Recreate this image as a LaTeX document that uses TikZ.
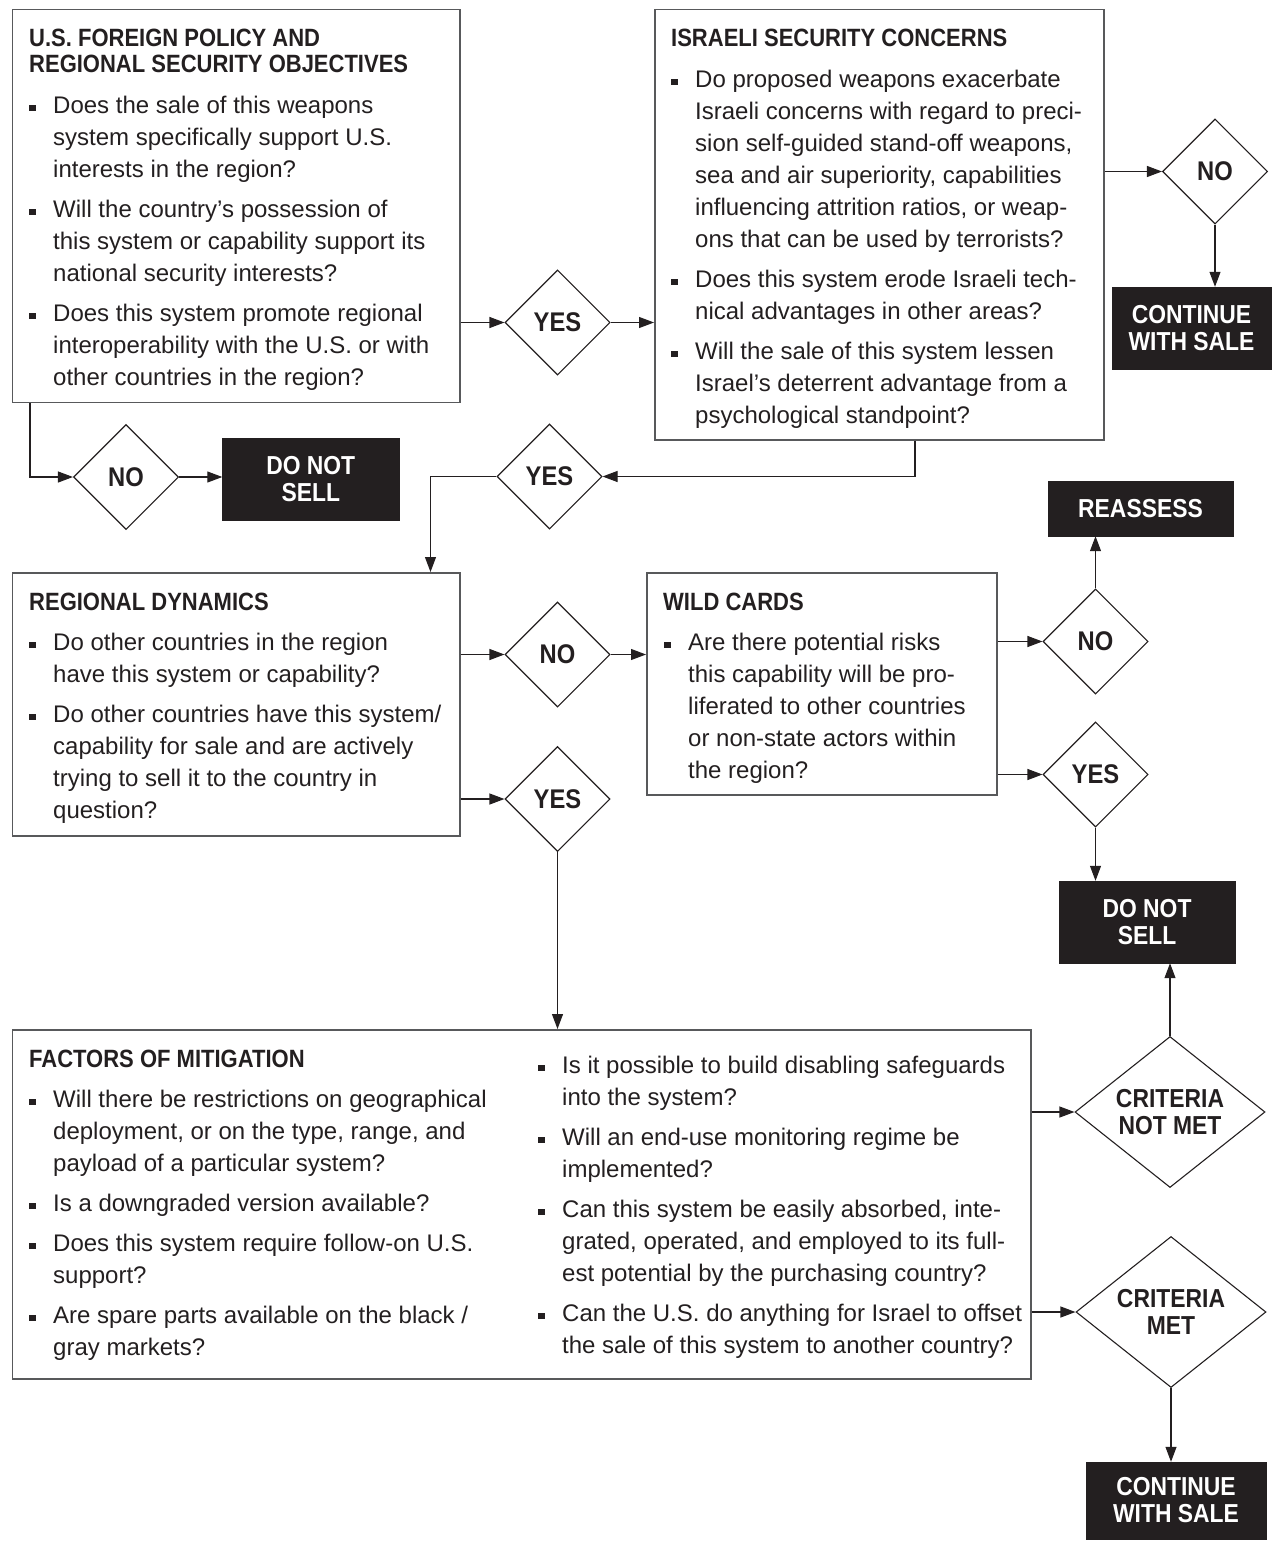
\documentclass[tikz,border=0pt]{standalone}
\usepackage{fontspec}
\setmainfont{Liberation Sans}
\newfontfamily\condfont[FakeStretch=0.88]{Liberation Sans}
\usetikzlibrary{shapes.geometric,arrows.meta}

\definecolor{ink}{RGB}{35,31,32}
\definecolor{frame}{RGB}{88,89,91}

\newcommand\bul{\makebox[24pt][l]{\rule[2pt]{6.5pt}{6.5pt}}}
\newcommand\ind{\hspace*{24pt}}
\newcommand\topline{\rule{0pt}{20pt}}

\begin{document}
\begin{tikzpicture}[x=1pt,y=-1pt,
  qbox/.style={draw=frame,line width=1.5pt,anchor=north west,inner sep=0pt},
  endbox/.style={fill=ink,draw=ink,text=white,inner sep=0pt,align=center,
    font=\condfont\bfseries\fontsize{26}{27}\selectfont},
  decision/.style={diamond,draw=ink,line width=1.1pt,inner sep=0pt,aspect=1.26,
    minimum width=105pt,minimum height=105pt,align=center,text=ink,
    font=\condfont\bfseries\fontsize{27}{27}\selectfont},
  bigdecision/.style={decision,minimum width=190pt,minimum height=151pt,
    font=\condfont\bfseries\fontsize{26}{27}\selectfont},
  title/.style={anchor=north west,inner sep=0pt,align=left,text=ink,
    font=\condfont\bfseries\fontsize{25}{26}\selectfont},
  items/.style={anchor=north west,inner sep=0pt,align=left,text=ink,
    font=\fontsize{24}{32}\selectfont},
  flow/.style={-{Triangle[length=15pt,width=11pt]},draw=ink,line width=1.1pt}]
\useasboundingbox (0,0) rectangle (1272,1541);
%\draw [help lines,step=100] (0,0) grid (1272,1541);

% question boxes
\node [qbox,minimum width=447.5pt,minimum height=392.5pt] (fp)  at (11.5,9) {};
\node [qbox,minimum width=449pt,minimum height=430pt]     (isr) at (654,9) {};
\node [qbox,minimum width=447.5pt,minimum height=263pt]   (rd)  at (11.5,572) {};
\node [qbox,minimum width=350pt,minimum height=222pt]     (wc)  at (646,572) {};
\node [qbox,minimum width=1018.5pt,minimum height=349pt]  (fm)  at (11.5,1029) {};

\node [title] (fpT) at (29,26) {\topline U.S. FOREIGN POLICY AND\\REGIONAL SECURITY OBJECTIVES};
\node [items] (fpL) at (29,93) {\topline\bul Does the sale of this weapons\\
  \ind system specifically support U.S.\\
  \ind interests in the region?\\[8pt]
  \bul Will the country’s possession of\\
  \ind this system or capability support its\\
  \ind national security interests?\\[8pt]
  \bul Does this system promote regional\\
  \ind interoperability with the U.S. or with\\
  \ind other countries in the region?};

\node [title] (isrT) at (671,26) {\topline ISRAELI SECURITY CONCERNS};
\node [items] (isrL) at (671,67) {\topline\bul Do proposed weapons exacerbate\\
  \ind Israeli concerns with regard to preci-\\
  \ind sion self-guided stand-off weapons,\\
  \ind sea and air superiority, capabilities\\
  \ind influencing attrition ratios, or weap-\\
  \ind ons that can be used by terrorists?\\[8pt]
  \bul Does this system erode Israeli tech-\\
  \ind nical advantages in other areas?\\[8pt]
  \bul Will the sale of this system lessen\\
  \ind Israel’s deterrent advantage from a\\
  \ind psychological standpoint?};

\node [title] (rdT) at (29,590) {\topline REGIONAL DYNAMICS};
\node [items] (rdL) at (29,630) {\topline\bul Do other countries in the region\\
  \ind have this system or capability?\\[8pt]
  \bul Do other countries have this system/\\
  \ind capability for sale and are actively\\
  \ind trying to sell it to the country in\\
  \ind question?};

\node [title] (wcT) at (663,590) {\topline WILD CARDS};
\node [items] (wcL) at (664,630) {\topline\bul Are there potential risks\\
  \ind this capability will be pro-\\
  \ind liferated to other countries\\
  \ind or non-state actors within\\
  \ind the region?};

\node [title] (fmT) at (29,1047) {\topline FACTORS OF MITIGATION};
\node [items] (fmL) at (29,1087) {\topline\bul Will there be restrictions on geographical\\
  \ind deployment, or on the type, range, and\\
  \ind payload of a particular system?\\[8pt]
  \bul Is a downgraded version available?\\[8pt]
  \bul Does this system require follow-on U.S.\\
  \ind support?\\[8pt]
  \bul Are spare parts available on the black /\\
  \ind gray markets?};
\node [items] (fmR) at (538,1053) {\topline\bul Is it possible to build disabling safeguards\\
  \ind into the system?\\[8pt]
  \bul Will an end-use monitoring regime be\\
  \ind implemented?\\[8pt]
  \bul Can this system be easily absorbed, inte-\\
  \ind grated, operated, and employed to its full-\\
  \ind est potential by the purchasing country?\\[8pt]
  \bul Can the U.S. do anything for Israel to offset\\
  \ind the sale of this system to another country?};

% decisions
\node [decision] (dy1) at (557.5,322.5) {YES};
\node [decision] (dn1) at (1215,171.5) {NO};
\node [decision] (dn2) at (126,477) {NO};
\node [decision] (dy2) at (549.5,476.5) {YES};
\node [decision] (dn3) at (557.5,654.5) {NO};
\node [decision] (dy3) at (557.5,799) {YES};
\node [decision] (dn4) at (1095.5,641.5) {NO};
\node [decision] (dy4) at (1095.5,774.5) {YES};
\node [bigdecision] (cnm) at (1170,1112) {CRITERIA\\NOT MET};
\node [bigdecision] (cm)  at (1171,1312) {CRITERIA\\MET};

% outcomes
\node [endbox,minimum width=159pt,minimum height=82pt]   (go1)   at (1191.5,328) {CONTINUE\\WITH SALE};
\node [endbox,minimum width=176.5pt,minimum height=82pt] (stop1) at (310.75,479) {DO NOT\\SELL};
\node [endbox,minimum width=185pt,minimum height=55pt]   (again) at (1140.5,508.5) {REASSESS};
\node [endbox,minimum width=176pt,minimum height=82pt]   (stop2) at (1147,922) {DO NOT\\SELL};
\node [endbox,minimum width=180pt,minimum height=77pt]   (go2)   at (1176,1500.5) {CONTINUE\\WITH SALE};

% connectors
\draw [flow] (fp.east |- dy1) -- (dy1.west);
\draw [flow] (dy1.east) -- (isr.west |- dy1.east);
\draw [flow] (isr.east |- dn1) -- (dn1.west);
\draw [flow] (dn1.south) -- (dn1.south |- go1.north);
\draw [flow] ([xshift=18.5pt]fp.south west) |- (dn2.west);
\draw [flow] (dn2.east) -- (stop1.west |- dn2.east);
\draw [flow] ([xshift=261pt]isr.south west) |- (dy2.east);
\draw [flow] (dy2.west) -| ([xshift=419pt]rd.north west);
\draw [flow] (rd.east |- dn3) -- (dn3.west);
\draw [flow] (dn3.east) -- (wc.west |- dn3.east);
\draw [flow] (rd.east |- dy3) -- (dy3.west);
\draw [flow] (dy3.south) -- (dy3.south |- fm.north);
\draw [flow] (wc.east |- dn4) -- (dn4.west);
\draw [flow] (dn4.north) -- (dn4.north |- again.south);
\draw [flow] (wc.east |- dy4) -- (dy4.west);
\draw [flow] (dy4.south) -- (dy4.south |- stop2.north);
\draw [flow] (fm.east |- cnm) -- (cnm.west);
\draw [flow] (cnm.north) -- (cnm.north |- stop2.south);
\draw [flow] (fm.east |- cm) -- (cm.west);
\draw [flow] (cm.south) -- (cm.south |- go2.north);
\end{tikzpicture}
\end{document}
